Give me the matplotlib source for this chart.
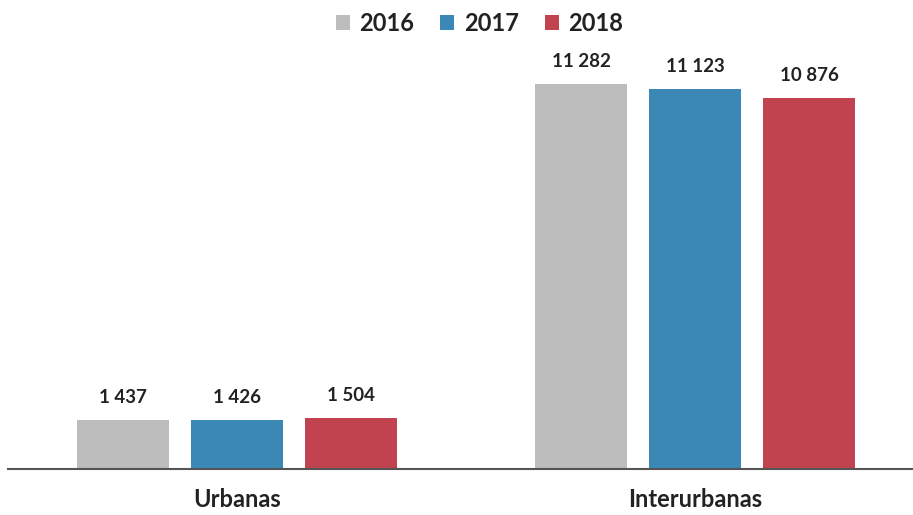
import numpy as np
import matplotlib.pyplot as plt

categories = ['Urbanas', 'Interurbanas']
years = ['2016', '2017', '2018']
values_2016 = [1437, 11282]
values_2017 = [1426, 11123]
values_2018 = [1504, 10876]

colors = ['#BDBDBD', '#3B87B5', '#C0434F']

plt.rcParams['font.family'] = ['Lato', 'DejaVu Sans']


def fmt(v):
    # thousands separated by a space
    return '{:,}'.format(v).replace(',', ' ')


fig = plt.figure(figsize=(9.13, 5.15), dpi=100)
ax = fig.add_axes([8 / 913, 46 / 515, 905 / 913, 419 / 515])

x = np.arange(len(categories))
width = 0.2
offset = 0.249
series = [values_2016, values_2017, values_2018]
for i, (year, vals) in enumerate(zip(years, series)):
    bars = ax.bar(x + (i - 1) * offset, vals, width, color=colors[i], label=year)
    for b, v in zip(bars, vals):
        ax.annotate(fmt(v), (b.get_x() + b.get_width() / 2, v), xytext=(0, 10),
                    textcoords='offset points', ha='center', va='bottom',
                    fontsize=13.5, fontweight='bold', color='#222222')

ax.set_xlim(-0.5, 1.476)
ax.set_ylim(0, 12277)
ax.set_xticks(x)
ax.set_xticklabels(categories, fontsize=17, fontweight='bold', color='#222222')
ax.tick_params(axis='x', length=0, pad=14)
ax.set_yticks([])
for s in ['top', 'right', 'left']:
    ax.spines[s].set_visible(False)
ax.spines['bottom'].set_color('#555555')
ax.spines['bottom'].set_linewidth(1.5)

leg = fig.legend(loc='upper center', bbox_to_anchor=(0.525, 1.018), ncol=3, frameon=False,
                 prop={'size': 17, 'weight': 'bold'}, handlelength=0.6, handleheight=0.6,
                 handletextpad=0.4, columnspacing=1.1)
for t in leg.get_texts():
    t.set_color('#222222')

fig.savefig('out.png', dpi=100)
